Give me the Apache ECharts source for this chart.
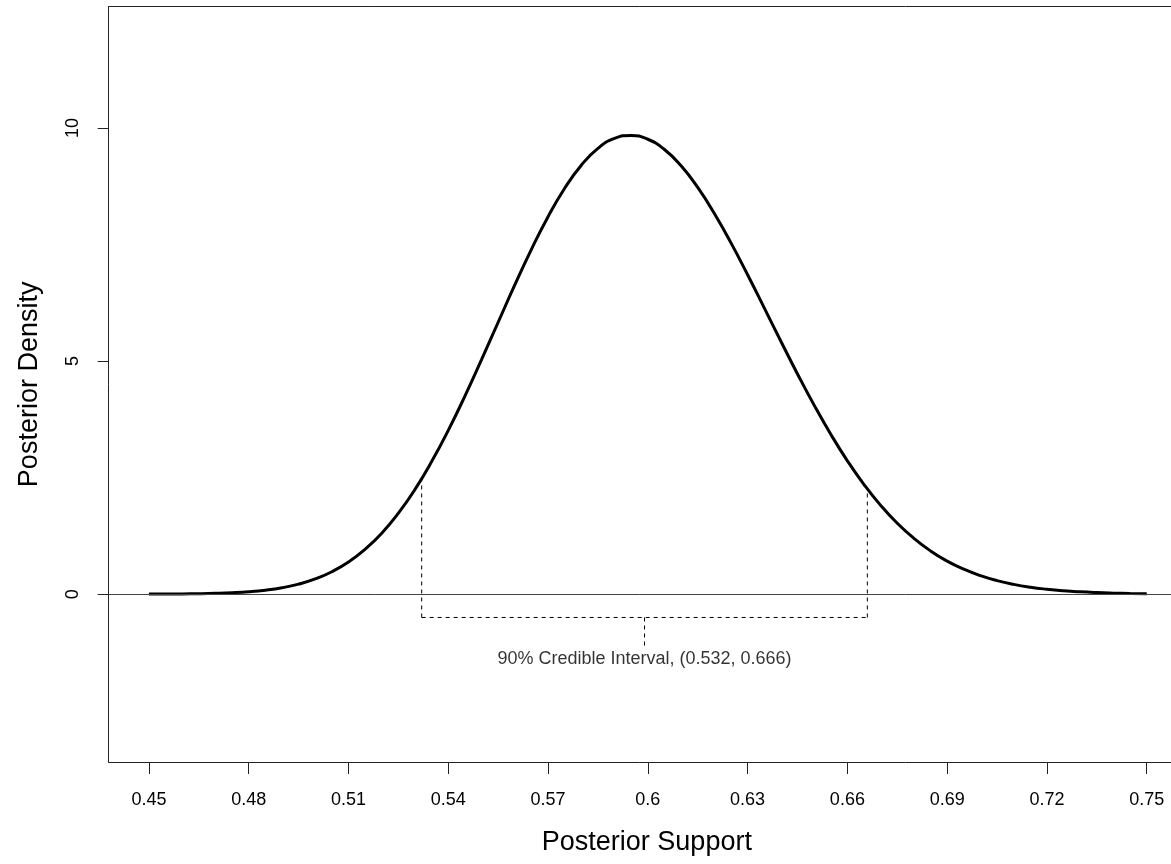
<!DOCTYPE html>
<html>
<head>
<meta charset="utf-8">
<title>Posterior Density</title>
<script src="https://cdn.jsdelivr.net/npm/echarts@6/dist/echarts.min.js"></script>
<style>
  html, body { margin: 0; padding: 0; background: #fff; }
  #chart { width: 1171px; height: 864px; }
</style>
</head>
<body>
<div id="chart"></div>
<script>
// posterior support grid and density
const support = [
  0.450, 0.455, 0.460, 0.465, 0.470, 0.475, 0.480, 0.485, 0.490, 0.495,
  0.500, 0.505, 0.510, 0.515, 0.520, 0.525, 0.530, 0.535, 0.540, 0.545,
  0.550, 0.555, 0.560, 0.565, 0.570, 0.575, 0.580, 0.585, 0.590, 0.595,
  0.600, 0.605, 0.610, 0.615, 0.620, 0.625, 0.630, 0.635, 0.640, 0.645,
  0.650, 0.655, 0.660, 0.665, 0.670, 0.675, 0.680, 0.685, 0.690, 0.695,
  0.700, 0.705, 0.710, 0.715, 0.720, 0.725, 0.730, 0.735, 0.740, 0.745,
  0.750
];
const density = [
  0.001, 0.002, 0.005, 0.009, 0.017, 0.030, 0.051, 0.085, 0.137, 0.215,
  0.326, 0.481, 0.689, 0.963, 1.308, 1.737, 2.247, 2.843, 3.513, 4.248,
  5.029, 5.832, 6.631, 7.396, 8.096, 8.706, 9.201, 9.562, 9.776, 9.840,
  9.757, 9.537, 9.189, 8.725, 8.166, 7.535, 6.851, 6.140, 5.425, 4.723,
  4.054, 3.430, 2.859, 2.351, 1.904, 1.520, 1.197, 0.928, 0.709, 0.535,
  0.397, 0.291, 0.210, 0.149, 0.105, 0.072, 0.049, 0.033, 0.022, 0.014,
  0.009
];

// 90% credible interval and the bracket drawn under it
const intervalBounds = [0.532, 0.666];
const boundHeights = [2.58, 2.26];
const bracketY = -0.5;
const pointerY = [-0.5, -1.1];
const labelY = -1.4;
const intervalLabel = '90% Credible Interval, (0.532, 0.666)';

const xTicks = [0.45, 0.48, 0.51, 0.54, 0.57, 0.6, 0.63, 0.66, 0.69, 0.72, 0.75];
const yTicks = [0, 5, 10];

const FONT = '"Liberation Sans", Arial, Helvetica, sans-serif';
const midpoint = (intervalBounds[0] + intervalBounds[1]) / 2;

const frame = { color: '#222', width: 1 };
const dashed = { color: '#000', width: 1, type: [4, 4] };

function segment(points) {
  return {
    type: 'line',
    data: points,
    showSymbol: false,
    symbol: 'none',
    silent: true,
    lineStyle: dashed,
    z: 3
  };
}

let myChart = echarts.init(document.getElementById('chart'));

let option = {
  animation: false,
  backgroundColor: '#fff',
  textStyle: { fontFamily: FONT },
  grid: {
    left: 108.7,
    top: 6.7,
    right: 0,
    bottom: 102
  },
  xAxis: [
    {
      type: 'value',
      min: 0.4379,
      max: 0.7573,
      name: 'Posterior Support',
      nameLocation: 'middle',
      nameGap: 67,
      nameTextStyle: {
        fontSize: 27, color: '#000', fontFamily: FONT,
        padding: [0, 0, 0, 14]
      },
      axisLine: { show: true, onZero: false, lineStyle: frame },
      splitLine: { show: false },
      axisTick: {
        show: true, inside: false, length: 12,
        customValues: xTicks,
        lineStyle: frame
      },
      axisLabel: {
        customValues: xTicks,
        margin: 29,
        fontSize: 18,
        color: '#000',
        fontFamily: FONT,
        formatter: v => String(v)
      }
    },
    {
      // top edge of the frame
      type: 'value',
      position: 'top',
      min: 0.4379,
      max: 0.7573,
      axisLine: { show: true, onZero: false, lineStyle: frame },
      axisTick: { show: false },
      axisLabel: { show: false },
      splitLine: { show: false }
    }
  ],
  yAxis: {
    type: 'value',
    min: -3.6,
    max: 12.6,
    name: 'Posterior Density',
    nameLocation: 'middle',
    nameGap: 66,
    nameTextStyle: { fontSize: 27, color: '#000', fontFamily: FONT },
    axisLine: { show: true, onZero: false, lineStyle: frame },
    splitLine: { show: false },
    axisTick: {
      show: true, inside: false, length: 11,
      customValues: yTicks,
      lineStyle: frame
    },
    axisLabel: {
      customValues: yTicks,
      rotate: 90,
      margin: 27,
      fontSize: 18,
      color: '#000',
      fontFamily: FONT,
      formatter: v => String(v)
    }
  },
  series: [
    {
      type: 'line',
      data: support.map((x, i) => [x, density[i]]),
      showSymbol: false,
      symbol: 'none',
      smooth: true,
      lineStyle: { color: '#000', width: 3 },
      z: 4,
      markLine: {
        silent: true,
        symbol: 'none',
        label: { show: false },
        lineStyle: { color: '#444', width: 1, type: 'solid' },
        data: [{ yAxis: 0 }]
      }
    },
    segment([[intervalBounds[0], bracketY], [intervalBounds[0], boundHeights[0]]]),
    segment([[intervalBounds[1], bracketY], [intervalBounds[1], boundHeights[1]]]),
    segment([[intervalBounds[0], bracketY], [intervalBounds[1], bracketY]]),
    segment([[midpoint, pointerY[0]], [midpoint, pointerY[1]]]),
    {
      type: 'scatter',
      data: [[midpoint, labelY]],
      symbolSize: 0,
      silent: true,
      label: {
        show: true,
        position: 'inside',
        formatter: intervalLabel,
        fontSize: 18,
        color: '#000',
        fontFamily: FONT
      }
    }
  ]
};

myChart.setOption(option);
</script>
</body>
</html>
